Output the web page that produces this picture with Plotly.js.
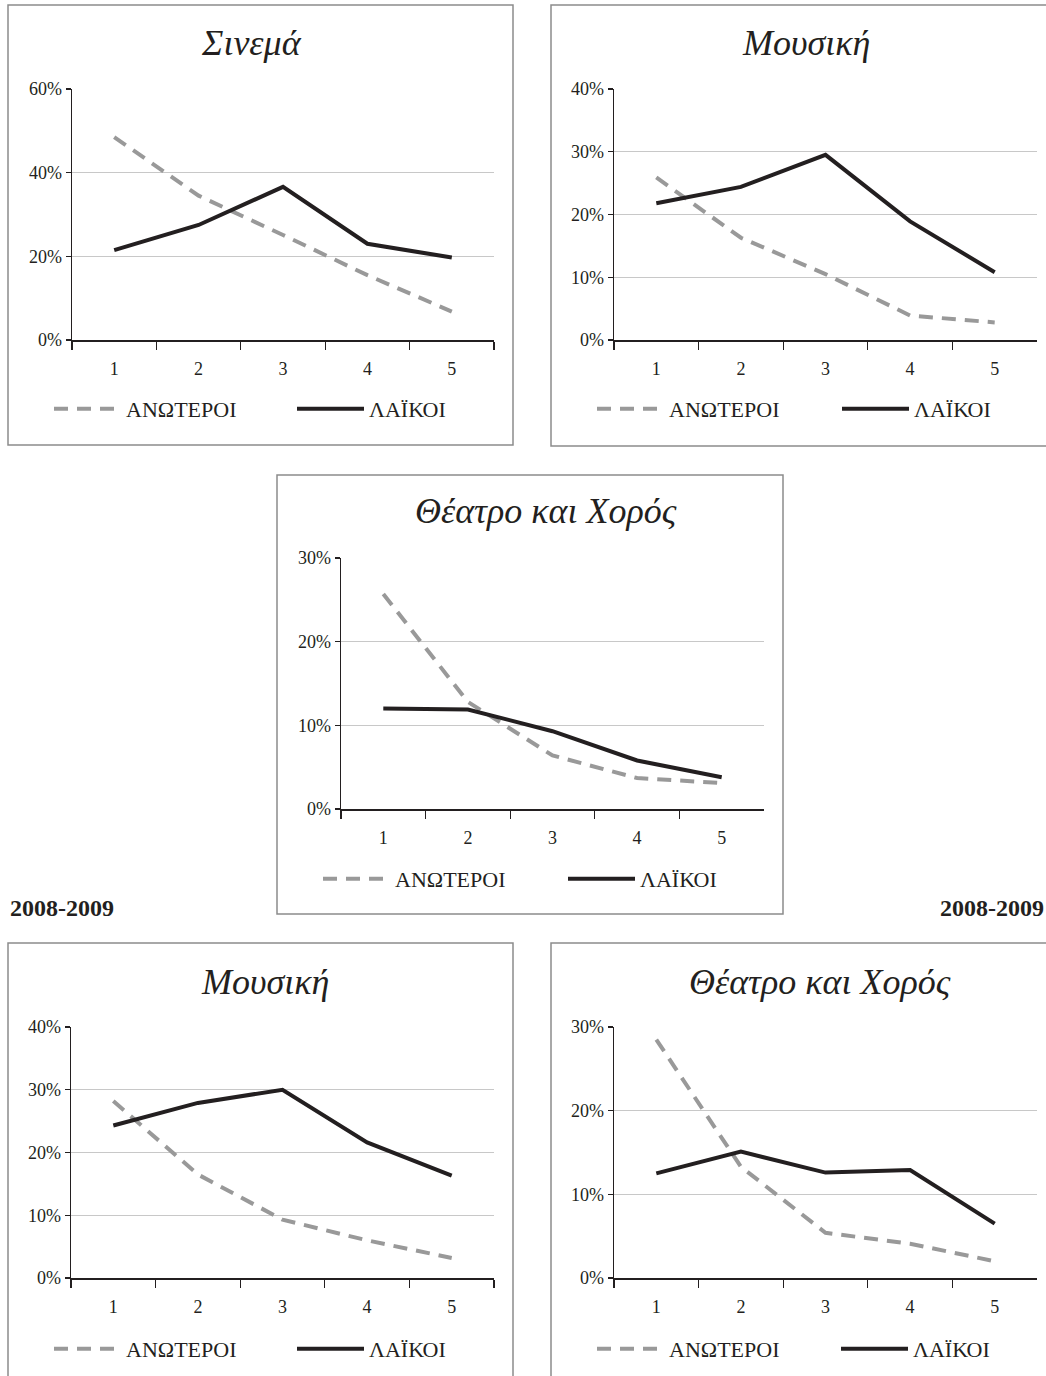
<!DOCTYPE html>
<html><head><meta charset="utf-8">
<script src="https://cdn.plot.ly/plotly-3.0.1.min.js"></script>
<style>html,body{margin:0;padding:0;background:#fff;overflow:hidden;} #chart{width:1046px;height:1376px;}</style>
</head><body><div id="chart"></div>
<script>
// ---------- DATA ----------
const categories = ['1', '2', '3', '4', '5'];
const seriesNames = ['ΑΝΩΤΕΡΟΙ', 'ΛΑΪΚΟΙ'];
const panelTitles = ['Σινεμά', 'Μουσική', 'Θέατρο και Χορός', 'Μουσική', 'Θέατρο και Χορός'];
const periodLabel = '2008-2009';

const cinemaAnoteroi   = [48.5, 34.5, 25.1, 15.5, 6.8];
const cinemaLaikoi     = [21.5, 27.5, 36.6, 23.0, 19.7];
const music1Anoteroi   = [25.9, 16.3, 10.5, 3.9, 2.8];
const music1Laikoi     = [21.8, 24.4, 29.5, 18.9, 10.8];
const theatre1Anoteroi = [25.7, 12.8, 6.4, 3.7, 3.1];
const theatre1Laikoi   = [12.0, 11.9, 9.3, 5.8, 3.8];
const music2Anoteroi   = [28.2, 16.5, 9.3, 6.0, 3.2];
const music2Laikoi     = [24.3, 27.9, 30.0, 21.6, 16.3];
const theatre2Anoteroi = [28.5, 13.3, 5.4, 4.1, 2.0];
const theatre2Laikoi   = [12.5, 15.1, 12.6, 12.9, 6.5];

const panelSeries = [
  [cinemaAnoteroi, cinemaLaikoi],
  [music1Anoteroi, music1Laikoi],
  [theatre1Anoteroi, theatre1Laikoi],
  [music2Anoteroi, music2Laikoi],
  [theatre2Anoteroi, theatre2Laikoi]
];
const yMax  = [60, 40, 30, 40, 30];
const yStep = [20, 10, 10, 10, 10];

// ---------- LAYOUT (pixels) ----------
const W = 1046, H = 1376;
const fx = px => px / W;
const fy = py => 1 - py / H;
const panels = [
  {border: [8, 5, 513, 445],       plot: [72, 89, 494, 340],    title: [251, 43],  legend: [[54, 409], [297, 409]]},
  {border: [551, 5, 1060, 446],    plot: [614, 89, 1037, 340],  title: [806, 43],  legend: [[597, 409], [842, 409]]},
  {border: [277, 475, 783, 914],   plot: [341, 558, 764, 809],  title: [546, 511], legend: [[323, 879], [568, 879]]},
  {border: [8, 943, 513, 1390],    plot: [71, 1027, 494, 1278], title: [265, 982], legend: [[54, 1349], [297, 1349]]},
  {border: [551, 943, 1060, 1390], plot: [614, 1027, 1037, 1278], title: [820, 982], legend: [[597, 1349], [841, 1349]]}
];

const textColor = '#231f20';
const fontFam = '"Liberation Serif", "Times New Roman", serif';
const traces = [];
const layout = {
  width: W, height: H, autosize: false,
  margin: {l: 0, r: 0, t: 0, b: 0, pad: 0},
  paper_bgcolor: '#fff', plot_bgcolor: '#fff',
  font: {family: fontFam, color: textColor},
  shapes: [], annotations: []
};

let legendCount = 0;
panels.forEach((p, i) => {
  const s = i === 0 ? '' : String(i + 1);
  layout['xaxis' + s] = {
    domain: [fx(p.plot[0]), fx(p.plot[2])], anchor: 'y' + s,
    type: 'category', range: [-0.5, 4.5], tickson: 'boundaries',
    ticks: 'outside', ticklen: 8, tickwidth: 1.3, tickcolor: textColor,
    showline: true, linecolor: textColor, linewidth: 1.5,
    showgrid: false, zeroline: false, fixedrange: true, automargin: false,
    tickfont: {size: 18, color: textColor}, ticklabelstandoff: 12
  };
  layout['yaxis' + s] = {
    domain: [fy(p.plot[3]), fy(p.plot[1])], anchor: 'x' + s,
    range: [0, yMax[i]], tick0: 0, dtick: yStep[i], ticksuffix: '%',
    ticks: 'outside', ticklen: 5, tickwidth: 1.3, tickcolor: textColor,
    showline: true, linecolor: textColor, linewidth: 1.5,
    showgrid: true, gridcolor: '#c8c8c8', gridwidth: 1,
    zeroline: false, fixedrange: true, automargin: false,
    tickfont: {size: 18, color: textColor}
  };
  panelSeries[i].forEach((vals, k) => {
    legendCount += 1;
    const legId = legendCount === 1 ? 'legend' : 'legend' + legendCount;
    const lp = p.legend[k];
    layout[legId] = {
      orientation: 'h', x: fx(lp[0] - 5), y: fy(lp[1]),
      xanchor: 'left', yanchor: 'middle', bgcolor: 'rgba(0,0,0,0)',
      borderwidth: 0,
      font: {size: 22, color: textColor, family: fontFam},
      itemwidth: 67
    };
    traces.push({
      type: 'scatter', mode: 'lines', x: categories, y: vals,
      name: seriesNames[k], xaxis: 'x' + s, yaxis: 'y' + s,
      legend: legId, showlegend: true, hoverinfo: 'skip',
      line: k === 0
        ? {color: '#999999', width: 4, dash: '14px,9px'}
        : {color: textColor, width: 4}
    });
  });
  layout.shapes.push({
    type: 'rect', xref: 'paper', yref: 'paper',
    x0: fx(p.border[0]), x1: fx(p.border[2]), y0: fy(p.border[3]), y1: fy(p.border[1]),
    line: {color: '#8c8c8c', width: 1.5}, fillcolor: 'rgba(0,0,0,0)', layer: 'below'
  });
  layout.annotations.push({
    xref: 'paper', yref: 'paper', x: fx(p.title[0]), y: fy(p.title[1]),
    xanchor: 'center', yanchor: 'middle', showarrow: false,
    text: '<i>' + panelTitles[i] + '</i>',
    font: {size: 36, color: textColor, family: fontFam}
  });
});

[8, 938].forEach(px => {
  layout.annotations.push({
    xref: 'paper', yref: 'paper', x: fx(px), y: fy(908),
    xanchor: 'left', yanchor: 'middle', showarrow: false,
    text: '<b>' + periodLabel + '</b>',
    font: {size: 24, color: textColor, family: fontFam}
  });
});

Plotly.newPlot('chart', traces, layout, {staticPlot: true, displayModeBar: false});
</script>
</body></html>
